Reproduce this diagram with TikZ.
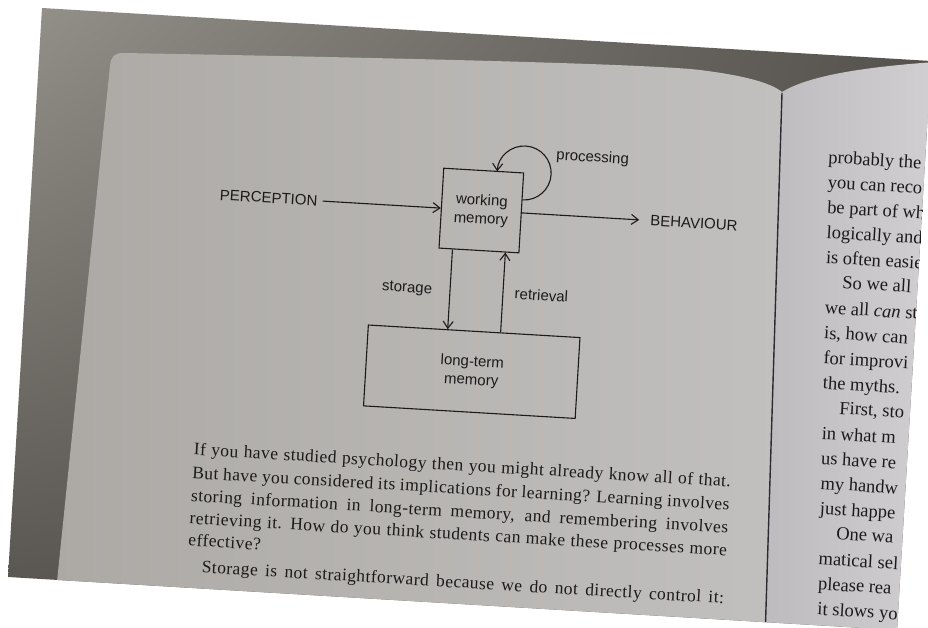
\documentclass[tikz,border=0pt]{standalone}
\usepackage{fontspec}
\setmainfont{Liberation Serif}
\setsansfont{Liberation Sans}
\newfontfamily\bookfont[LetterSpace=2.5]{Liberation Serif}
\usetikzlibrary{arrows.meta, shadings}

\definecolor{surround}{RGB}{84,80,75}
\definecolor{surroundlight}{RGB}{150,146,140}
\definecolor{leftpageA}{RGB}{172,169,165}
\definecolor{leftpageB}{RGB}{194,192,191}
\definecolor{rightpageA}{RGB}{190,187,191}
\definecolor{rightpageB}{RGB}{209,207,210}
\definecolor{ink}{RGB}{28,26,26}
\definecolor{gutter}{RGB}{45,42,50}

\tikzset{
  box/.style={draw=ink, line width=1.1pt, inner sep=0pt, align=center, text=ink,
    font=\sffamily\fontsize{15}{18.5}\selectfont},
  lbl/.style={font=\sffamily\fontsize{15}{18}\selectfont, text=ink, inner sep=5pt},
  flow/.style={draw=ink, line width=1.1pt, -{Straight Barb[length=7pt,width=10pt]}},
  bodyline/.style={anchor=base west, inner sep=0pt, text=ink, font=\bookfont\fontsize{17.5}{20}\selectfont},
  pageline/.style={anchor=base west, inner sep=0pt, text=ink, rotate=-3.4,
    font=\rmfamily\fontsize{18.5}{20}\selectfont},
}

\begin{document}
\begin{tikzpicture}[x=1pt,y=-1pt]
\useasboundingbox (0,0) rectangle (928,628);
\fill[white] (0,0) rectangle (928,628);

\begin{scope}
\clip (42,8) -- (931,61) -- (897,630) -- (8,577) -- cycle;
\shade[upper left=surroundlight, upper right=surround, lower left=surround, lower right=surround]
  (0,0) rectangle (940,640);
\shade[left color=leftpageA, right color=leftpageB] (51,640) -- (110,66)
  .. controls (111,57) and (114,53) .. (123,53)
  .. controls (400,58) and (650,64) .. (700,70)
  .. controls (740,75) and (770,82) .. (782,92) -- (765,640) -- cycle;
\shade[left color=rightpageA, right color=rightpageB] (782,92)
  .. controls (805,78) and (850,68) .. (935,62) -- (935,640) -- (765,640) -- cycle;
\draw[gutter, line width=1.4pt] (782,93) -- (765,640);

\begin{scope}[rotate around={-3.4:(470,300)}, transform shape]
  \node[box, minimum width=80, minimum height=80] (wm) at (476,210) {working\\memory};
  \node[box, minimum width=212, minimum height=81] (lm) at (476,371.5) {long-term\\memory};

  \node[lbl] (perc) at (263,210) {PERCEPTION};
  \node[lbl] (behav) at (689,210) {BEHAVIOUR};
  \node[lbl] (proc) at (584,151) {processing};
  \node[lbl] (stor) at (406.5,292.5) {storage};
  \node[lbl] (retr) at (541,291) {retrieval};

  \draw[flow] (perc) -- (wm);
  \draw[flow, shorten >=6pt] (wm) -- (behav);
  \draw[flow] ([yshift=13pt]wm.east) arc[start angle=90, end angle=-180, radius=27];
  \draw[flow] ([xshift=-26.5pt]wm.south) -- ([xshift=-26.5pt]lm.north);
  \draw[flow] ([xshift=26.5pt]lm.north) -- ([xshift=26.5pt]wm.south);

  \node[bodyline] (p1) at (203,471) {\makebox[538pt][s]{If you have studied psychology then you might already know all of that.}};
  \node[bodyline] (p2) at (203,494.5) {\makebox[538pt][s]{But have you considered its implications for learning? Learning involves}};
  \node[bodyline] (p3) at (203,517.5) {\makebox[538pt][s]{storing information in long-term memory, and remembering involves}};
  \node[bodyline] (p4) at (203,540) {\makebox[538pt][s]{retrieving it. How do you think students can make these processes more}};
  \node[bodyline] (p5) at (203,562) {effective?};
  \node[bodyline] (p6) at (218,588) {\makebox[523pt][s]{Storage is not straightforward because we do not directly control it:}};
\end{scope}

\node[pageline] (r1) at (828,163) {probably the};
\node[pageline] (r2) at (827.4,188.1) {you can reco};
\node[pageline] (r3) at (826.8,213.2) {be part of wh};
\node[pageline] (r4) at (826.2,238.3) {logically and};
\node[pageline] (r5) at (825.6,263.4) {is often easie};
\node[pageline] (r6) at (842,288.5) {So we all};
\node[pageline] (r7) at (824.3,313.6) {we all \textit{can} st};
\node[pageline] (r8) at (823.7,338.7) {is, how can};
\node[pageline] (r9) at (823.1,363.8) {for improvi};
\node[pageline] (r10) at (822.5,388.9) {the myths.};
\node[pageline] (r11) at (838.9,414) {First, sto};
\node[pageline] (r12) at (821.3,439.1) {in what m};
\node[pageline] (r13) at (820.7,464.2) {us have re};
\node[pageline] (r14) at (820.1,489.3) {my handw};
\node[pageline] (r15) at (819.5,514.4) {just happe};
\node[pageline] (r16) at (835.9,539.5) {One wa};
\node[pageline] (r17) at (818.2,564.6) {matical sel};
\node[pageline] (r18) at (817.6,589.7) {please rea};
\node[pageline] (r19) at (817,614.8) {it slows yo};
\end{scope}
\end{tikzpicture}
\end{document}
